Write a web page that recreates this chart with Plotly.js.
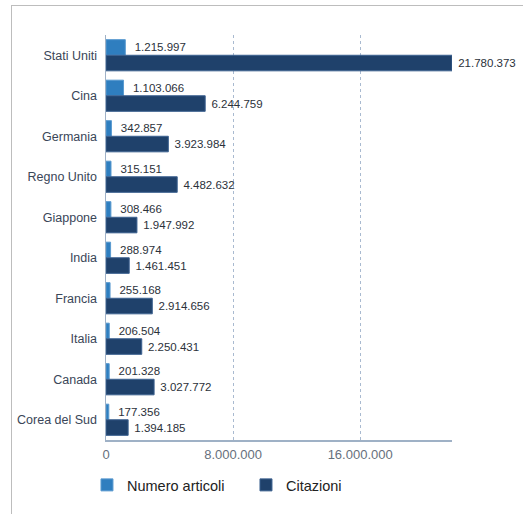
<!DOCTYPE html>
<html>
<head>
<meta charset="utf-8">
<script src="https://cdn.plot.ly/plotly-3.0.1.min.js"></script>
<style>
  html, body { margin: 0; padding: 0; background: #fff; }
  #wrap { position: relative; width: 523px; height: 514px; }
  #chart { position: absolute; left: 0; top: 0; width: 523px; height: 514px; }
  #frame { position: absolute; left: 11px; top: 5px; right: -2px; bottom: -2px;
           border-left: 1.5px solid #bdbdbd; border-top: 1.5px solid #bdbdbd; pointer-events: none; }
</style>
</head>
<body>
<div id="wrap">
  <div id="chart"></div>
  <div id="frame"></div>
</div>
<script>
const countries = ["Stati Uniti", "Cina", "Germania", "Regno Unito", "Giappone", "India", "Francia", "Italia", "Canada", "Corea del Sud"];
const articoli = [1215997, 1103066, 342857, 315151, 308466, 288974, 255168, 206504, 201328, 177356];
const citazioni = [21780373, 6244759, 3923984, 4482632, 1947992, 1461451, 2914656, 2250431, 3027772, 1394185];
const tickVals = [0, 8000000, 16000000];
const seriesNames = ["Numero articoli", "Citazioni"];

const FONT = "Liberation Sans, Arial, sans-serif";
const textFont = { family: FONT, size: 11.5, color: "#2b313a" };

const traces = [
  {
    type: "bar", orientation: "h", name: seriesNames[0],
    y: countries, x: articoli,
    marker: { color: "#2f7ebf", line: { color: "#5b9bd0", width: 1 } },
    texttemplate: "  %{x:,d}", textposition: "outside", cliponaxis: false,
    constraintext: "none", textfont: textFont, outsidetextfont: textFont,
    hoverinfo: "skip"
  },
  {
    type: "bar", orientation: "h", name: seriesNames[1],
    y: countries, x: citazioni,
    marker: { color: "#1f416b", line: { color: "#3d6290", width: 1 } },
    texttemplate: " %{x:,d}", textposition: "outside", cliponaxis: false,
    constraintext: "none", textfont: textFont, outsidetextfont: textFont,
    hoverinfo: "skip"
  }
];

const layout = {
  width: 523, height: 514,
  margin: { l: 106, r: 71, t: 35, b: 74, pad: 0 },
  paper_bgcolor: "#ffffff", plot_bgcolor: "#ffffff",
  separators: ",.",
  barmode: "group", bargap: 0.23, bargroupgap: 0,
  showlegend: true,
  legend: {
    orientation: "h", x: -0.055, xanchor: "left", y: -0.111, yanchor: "middle",
    font: { family: FONT, size: 14.5, color: "#222" },
    entrywidth: 114, traceorder: "normal"
  },
  xaxis: {
    range: [0, 21780373],
    tickvals: tickVals, tickformat: ",d",
    showgrid: true, gridcolor: "#a9bad0", griddash: "dot", gridwidth: 1,
    zeroline: false,
    showline: true, linecolor: "#9fb1c6", linewidth: 1.5,
    ticks: "", ticklabelstandoff: 2,
    tickfont: { family: FONT, size: 13, color: "#66707c" },
    fixedrange: true
  },
  yaxis: {
    autorange: "reversed",
    showline: true, linecolor: "#9fb1c6", linewidth: 1.5,
    showgrid: false, zeroline: false, ticks: "", ticklabelstandoff: 5,
    tickfont: { family: FONT, size: 12.5, color: "#3a4658" },
    fixedrange: true
  }
};

Plotly.newPlot("chart", traces, layout, { displayModeBar: false, staticPlot: true });
</script>
</body>
</html>
